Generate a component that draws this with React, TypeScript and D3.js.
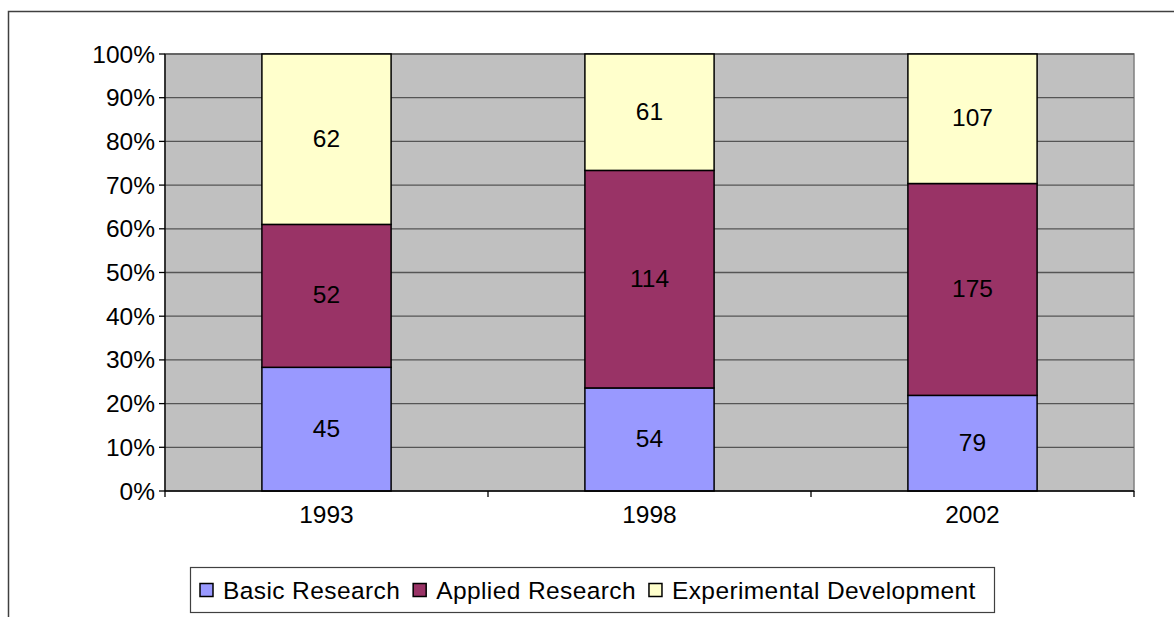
import * as d3 from "d3";
import { useRef, useEffect } from "react";

const years = ["1993", "1998", "2002"];
const seriesNames = ["Basic Research", "Applied Research", "Experimental Development"];
const basicResearch = [45, 54, 79];
const appliedResearch = [52, 114, 175];
const experimentalDev = [62, 61, 107];
const seriesColors = ["#9999FF", "#993366", "#FFFFCC"];
const yTicks = [0, 0.1, 0.2, 0.3, 0.4, 0.5, 0.6, 0.7, 0.8, 0.9, 1];

export default function App() {
  const ref = useRef<SVGSVGElement>(null);

  useEffect(() => {
    const width = 1174;
    const height = 617;
    const font = "'Liberation Sans', Arial, sans-serif";
    const fs = 24.5;

    const svg = d3.select(ref.current);
    svg.selectAll("*").remove();
    svg.attr("width", width).attr("height", height);

    // chart frame (runs off the right and bottom)
    svg.append("rect")
      .attr("x", 8.5).attr("y", 11.5)
      .attr("width", 1200).attr("height", 700)
      .attr("fill", "#fff")
      .attr("stroke", "#404040")
      .attr("stroke-width", 1.5);

    const left = 165, right = 1134, top = 54, bottom = 491;

    const x = d3.scaleBand().domain(years).range([left, right]).paddingInner(0.6).paddingOuter(0.3);
    const y = d3.scaleLinear().domain([0, 1]).range([bottom, top]);

    svg.append("rect")
      .attr("x", left).attr("y", top)
      .attr("width", right - left).attr("height", bottom - top)
      .attr("fill", "#C0C0C0")
      .attr("stroke", "#808080")
      .attr("stroke-width", 1.5);

    svg.append("g").selectAll("line")
      .data(yTicks.slice(1))
      .enter().append("line")
      .attr("x1", left).attr("x2", right)
      .attr("y1", d => y(d)).attr("y2", d => y(d))
      .attr("stroke", "#555")
      .attr("stroke-width", 1.3);

    const rows = years.map((yr, i) => {
      const vals = [basicResearch[i], appliedResearch[i], experimentalDev[i]];
      const total = d3.sum(vals);
      const row: any = { year: yr, total };
      seriesNames.forEach((s, j) => (row[s] = vals[j] / total));
      row.raw = vals;
      return row;
    });

    const stacked = d3.stack().keys(seriesNames)(rows);

    stacked.forEach((layer, j) => {
      const g = svg.append("g");
      g.selectAll("rect")
        .data(layer)
        .enter().append("rect")
        .attr("x", d => x((d.data as any).year)!)
        .attr("width", x.bandwidth())
        .attr("y", d => y(d[1]))
        .attr("height", d => y(d[0]) - y(d[1]))
        .attr("fill", seriesColors[j])
        .attr("stroke", "#000")
        .attr("stroke-width", 1.5);
      g.selectAll("text")
        .data(layer)
        .enter().append("text")
        .attr("x", d => x((d.data as any).year)! + x.bandwidth() / 2)
        .attr("y", d => (y(d[0]) + y(d[1])) / 2)
        .attr("dy", "0.3em")
        .attr("text-anchor", "middle")
        .style("font-family", font)
        .style("font-size", fs + "px")
        .attr("fill", "#000")
        .text(d => (d.data as any).raw[j]);
    });

    // axes
    svg.append("line")
      .attr("x1", left).attr("x2", left).attr("y1", top).attr("y2", bottom)
      .attr("stroke", "#000").attr("stroke-width", 1.3);
    svg.append("line")
      .attr("x1", left).attr("x2", right).attr("y1", bottom).attr("y2", bottom)
      .attr("stroke", "#000").attr("stroke-width", 1.3);

    svg.append("g").selectAll("line")
      .data(yTicks)
      .enter().append("line")
      .attr("x1", left - 6).attr("x2", left)
      .attr("y1", d => y(d)).attr("y2", d => y(d))
      .attr("stroke", "#000").attr("stroke-width", 1.3);

    svg.append("g").selectAll("text")
      .data(yTicks)
      .enter().append("text")
      .attr("x", 155)
      .attr("y", d => y(d))
      .attr("dy", "0.35em")
      .attr("text-anchor", "end")
      .style("font-family", font)
      .style("font-size", fs + "px")
      .text(d => d3.format(".0%")(d));

    const step = (right - left) / years.length;
    svg.append("g").selectAll("line")
      .data(d3.range(years.length + 1))
      .enter().append("line")
      .attr("x1", d => left + d * step).attr("x2", d => left + d * step)
      .attr("y1", bottom).attr("y2", bottom + 6)
      .attr("stroke", "#000").attr("stroke-width", 1.3);

    svg.append("g").selectAll("text")
      .data(years)
      .enter().append("text")
      .attr("x", d => x(d)! + x.bandwidth() / 2)
      .attr("y", 523)
      .attr("text-anchor", "middle")
      .style("font-family", font)
      .style("font-size", fs + "px")
      .text(d => d);

    // legend
    const legend = svg.append("g");
    legend.append("rect")
      .attr("x", 190.5).attr("y", 567.5)
      .attr("width", 804).attr("height", 45)
      .attr("fill", "#fff")
      .attr("stroke", "#404040")
      .attr("stroke-width", 1.2);

    let lx = 200;
    seriesNames.forEach((s, j) => {
      legend.append("rect")
        .attr("x", lx).attr("y", 583.5)
        .attr("width", 13).attr("height", 13)
        .attr("fill", seriesColors[j])
        .attr("stroke", "#000")
        .attr("stroke-width", 1.5);
      const t = legend.append("text")
        .attr("x", lx + 23)
        .attr("y", 590)
        .attr("dy", "0.35em")
        .style("font-family", font)
        .style("font-size", fs + "px")
        .style("letter-spacing", "0.4px")
        .text(s);
      const w = (t.node() as SVGTextElement).getComputedTextLength();
      lx += 23 + w + 13;
    });
  }, []);

  return <svg ref={ref} style={{ position: "absolute", left: 0, top: 0 }}></svg>;
}
